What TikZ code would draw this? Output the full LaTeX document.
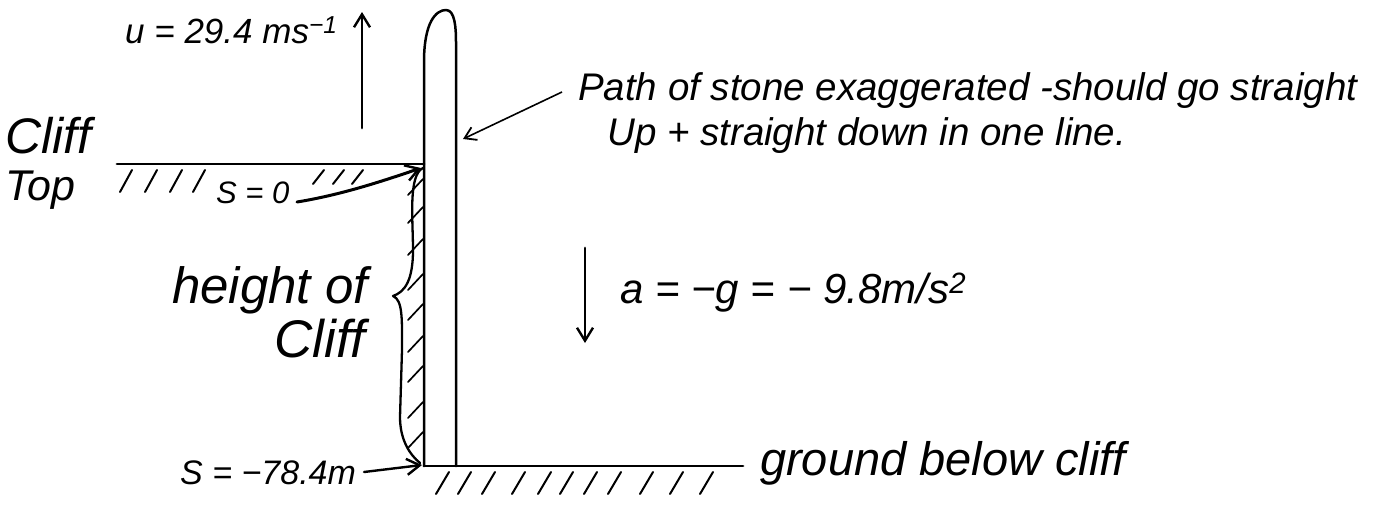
\documentclass[tikz,border=0pt]{standalone}
\usepackage{fontspec}
\setmainfont{Liberation Sans}
\usetikzlibrary{arrows.meta}
\newcommand{\fs}[1]{\fontsize{#1}{#1}\selectfont\itshape}
\begin{document}
\begin{tikzpicture}[x=1pt,y=-1pt,
  ink/.style={line width=2.8pt, line cap=round, line join=round},
  hatch/.style={line width=2pt, line cap=round},
  lbl/.style={inner sep=0pt, anchor=base west},
  barb/.style={-{Straight Barb[length=13pt,width=16pt,line width=2.4pt]}},
  thinbarb/.style={line width=1.6pt, -{Straight Barb[length=11pt,width=14pt,line width=1.8pt]}}]
\useasboundingbox (0,0) rectangle (1381,506);

% labels
\node[lbl, font=\fs{35}] (u) at (125,43) {u = 29.4 ms\textsuperscript{−1}};
\node[lbl, font=\fs{50}] (cliff) at (5,153) {Cliff};
\node[lbl, font=\fs{43}] (top) at (5,200) {Top};
\node[lbl, font=\fs{31}] (s0) at (216,203) {S = 0};
\node[lbl, font=\fs{51}] (height) at (172,303) {height of};
\node[lbl, font=\fs{53}] (hcliff) at (274,357) {Cliff};
\node[lbl, font=\fs{34}] (s78) at (180,484) {S = −78.4m};
\node[lbl, font=\fs{38.5}] (path1) at (578,100) {Path of stone exaggerated -should go straight};
\node[lbl, font=\fs{38.5}] (path2) at (607,145) {Up + straight down in one line.};
\node[lbl, font=\fs{42}] (acc) at (620,303) {a = −g = − 9.8m/s\textsuperscript{2}};
\node[lbl, font=\fs{47}] (ground) at (760,475) {ground below cliff};

% key points
\coordinate (ctL) at (117,164);
\coordinate (ctR) at (424,164);
\coordinate (gL) at (424,466);
\coordinate (gR) at (743,466);
\coordinate (upS) at (362,128);
\coordinate (upE) at (362,12);
\coordinate (dnS) at (585,248);
\coordinate (dnE) at (585,343);
\coordinate (s0S) at (297,202);
\coordinate (s0E) at (421,168);
\coordinate (s78S) at (364,472);
\coordinate (s78E) at (422,465);
\coordinate (ldS) at (562,92);
\coordinate (ldE) at (463,139);

% cliff top and ground
\draw[ink] (ctL) -- (ctR);
\draw[ink] (gL) -- (gR);

% path of stone
\draw[ink,line width=2.5pt] (gL) -- (424,62) .. controls (424,22) and (436,10) .. (446,10)
  .. controls (455,10) and (456,28) .. (456,42) -- (456,466);

% arrows
\draw[ink,barb] (upS) -- (upE);
\draw[ink,barb] (dnS) -- (dnE);
\draw[ink,barb,line width=3pt] (s0S) .. controls (340,195) and (380,182) .. (s0E);
\draw[ink,barb,line width=2.4pt] (s78S) -- (s78E);
\draw[thinbarb] (ldS) -- (ldE);

% brace
\draw[line width=2.3pt, line cap=round, line join=round]
  (423,168) .. controls (408,175) and (413,220) .. (413,250)
  .. controls (413,280) and (405,292) .. (393,296)
  .. controls (403,300) and (402,320) .. (402,350)
  -- (400,417) .. controls (400,440) and (410,455) .. (420,463);

% hatching on wall
\foreach \y in {185,213,245,280,310,342,372,408,438}
  \draw[hatch,line width=1.7pt] (408,\y+10) -- (423,\y-6);

% hatching on cliff top
\foreach \x in {120,145,170,193}
  \draw[hatch] (\x,192) -- (\x+12,170);
\foreach \x in {313,333,352}
  \draw[hatch] (\x,184) -- (\x+11,170);

% hatching on ground
\foreach \x in {436,458,482,512,538,560,584,608,640,670,700}
  \draw[hatch] (\x,494) -- (\x+13,472);
\end{tikzpicture}
\end{document}
